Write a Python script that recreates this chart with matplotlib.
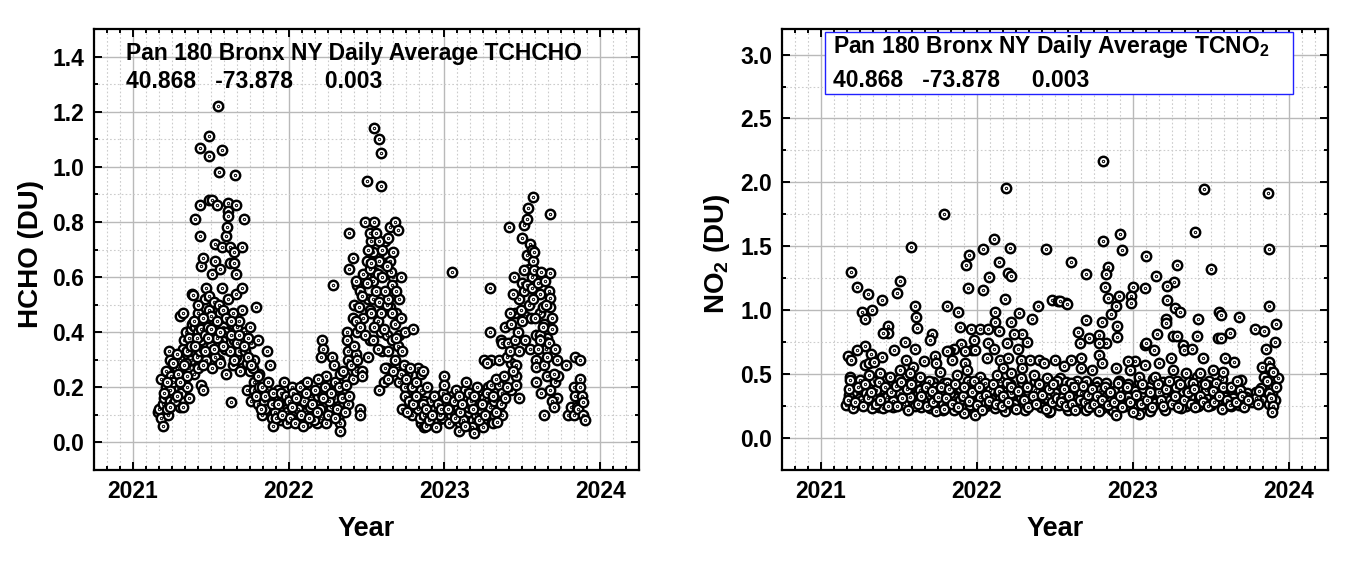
import numpy as np
import matplotlib
matplotlib.use("Agg")
import matplotlib.pyplot as plt
from matplotlib.path import Path
from matplotlib.patches import Rectangle
from matplotlib.ticker import MultipleLocator, FormatStrFormatter

plt.rcParams['font.family'] = ['Liberation Sans', 'DejaVu Sans']
plt.rcParams['font.weight'] = 'bold'
plt.rcParams['mathtext.fontset'] = 'custom'
plt.rcParams['mathtext.rm'] = 'Liberation Sans:bold'
plt.rcParams['mathtext.bf'] = 'Liberation Sans:bold'

#HCHO daily averages (decimal year, DU)
hcho_21_t = [2021.16, 2021.17, 2021.18, 2021.18, 2021.19, 2021.19, 2021.20, 2021.21, 2021.21, 2021.225,
             2021.23, 2021.235, 2021.235, 2021.245, 2021.255, 2021.27, 2021.28, 2021.29, 2021.30, 2021.30,
             2021.30, 2021.31, 2021.32, 2021.32, 2021.32, 2021.33, 2021.34, 2021.36, 2021.36, 2021.37,
             2021.37, 2021.38, 2021.38, 2021.38, 2021.385, 2021.39, 2021.39, 2021.40, 2021.40, 2021.42,
             2021.42, 2021.43, 2021.43, 2021.43, 2021.43, 2021.44, 2021.44, 2021.44, 2021.45, 2021.45,
             2021.46, 2021.47, 2021.47, 2021.47, 2021.47, 2021.48, 2021.49, 2021.49, 2021.49, 2021.49,
             2021.49, 2021.51, 2021.51, 2021.51, 2021.52, 2021.52, 2021.53, 2021.53, 2021.54, 2021.545,
             2021.55, 2021.55, 2021.55, 2021.56, 2021.56, 2021.57, 2021.57, 2021.57, 2021.575, 2021.58,
             2021.59, 2021.60, 2021.60, 2021.605, 2021.61, 2021.61, 2021.61, 2021.61, 2021.61, 2021.62,
             2021.62, 2021.63, 2021.64, 2021.65, 2021.65, 2021.65, 2021.655, 2021.66, 2021.66, 2021.66,
             2021.66, 2021.67, 2021.68, 2021.70, 2021.70, 2021.70, 2021.70, 2021.71, 2021.72, 2021.73,
             2021.75, 2021.75, 2021.76, 2021.76, 2021.78, 2021.78, 2021.78, 2021.79, 2021.80, 2021.80,
             2021.81, 2021.82, 2021.83, 2021.86, 2021.86, 2021.87, 2021.88, 2021.89, 2021.90, 2021.92,
             2021.94, 2021.97, 2021.985,
             2021.22, 2021.24, 2021.26, 2021.27, 2021.28, 2021.29, 2021.31, 2021.33, 2021.34, 2021.35,
             2021.35, 2021.36, 2021.39, 2021.41, 2021.41, 2021.42, 2021.43, 2021.44, 2021.45, 2021.46,
             2021.48, 2021.50, 2021.50, 2021.52, 2021.53, 2021.54, 2021.56, 2021.58, 2021.59, 2021.62,
             2021.63, 2021.64, 2021.67, 2021.68, 2021.69, 2021.72, 2021.73, 2021.74, 2021.77, 2021.79,
             2021.81, 2021.84, 2021.85, 2021.88, 2021.91, 2021.93, 2021.95, 2021.96, 2021.99]
hcho_21_v = [0.11, 0.12, 0.09, 0.23, 0.06, 0.14, 0.16, 0.26, 0.20, 0.10,
             0.33, 0.30, 0.15, 0.24, 0.18, 0.21, 0.27, 0.20, 0.30, 0.46,
             0.13, 0.24, 0.47, 0.34, 0.13, 0.37, 0.40, 0.27, 0.16, 0.41,
             0.30, 0.54, 0.43, 0.36, 0.535, 0.33, 0.25, 0.81, 0.42, 0.47,
             0.40, 1.07, 0.86, 0.75, 0.43, 0.37, 0.64, 0.21, 0.67, 0.19,
             0.52, 0.56, 0.44, 0.40, 0.30, 0.33, 1.11, 1.04, 0.88, 0.53,
             0.48, 0.88, 0.61, 0.27, 0.51, 0.44, 0.72, 0.66, 0.86, 1.22,
             0.98, 0.50, 0.30, 0.63, 0.47, 1.06, 0.71, 0.56, 0.37, 0.42,
             0.34, 0.75, 0.25, 0.78, 0.87, 0.84, 0.82, 0.52, 0.40, 0.71,
             0.65, 0.145, 0.47, 0.69, 0.65, 0.37, 0.97, 0.86, 0.61, 0.54,
             0.31, 0.42, 0.33, 0.71, 0.56, 0.48, 0.27, 0.81, 0.40, 0.19,
             0.42, 0.26, 0.36, 0.15, 0.30, 0.22, 0.19, 0.49, 0.37, 0.14,
             0.25, 0.17, 0.10, 0.33, 0.19, 0.13, 0.28, 0.09, 0.06, 0.16,
             0.12, 0.22, 0.14,
             0.12, 0.19, 0.22, 0.15, 0.32, 0.25, 0.18, 0.22, 0.29, 0.33,
             0.20, 0.38, 0.44, 0.31, 0.38, 0.27, 0.33, 0.41, 0.28, 0.39,
             0.42, 0.35, 0.46, 0.40, 0.31, 0.38, 0.29, 0.48, 0.40, 0.33,
             0.39, 0.28, 0.36, 0.44, 0.26, 0.33, 0.29, 0.38, 0.27, 0.17,
             0.20, 0.15, 0.12, 0.17, 0.11, 0.19, 0.08, 0.15, 0.11]

hcho_22_t = [2022.01, 2022.03, 2022.04, 2022.06, 2022.07, 2022.09, 2022.10, 2022.12, 2022.135, 2022.16,
             2022.17, 2022.20, 2022.215, 2022.22, 2022.21, 2022.23, 2022.24, 2022.26, 2022.28, 2022.29,
             2022.295, 2022.285, 2022.31, 2022.33, 2022.33, 2022.33, 2022.34, 2022.35, 2022.375, 2022.375,
             2022.38, 2022.38, 2022.39, 2022.39, 2022.39, 2022.41, 2022.41, 2022.41, 2022.43, 2022.43,
             2022.435, 2022.435, 2022.44, 2022.45, 2022.455, 2022.455, 2022.46, 2022.47, 2022.47, 2022.48,
             2022.49, 2022.50, 2022.51, 2022.52, 2022.52, 2022.52, 2022.52, 2022.54, 2022.54, 2022.54,
             2022.54, 2022.55, 2022.55, 2022.57, 2022.57, 2022.58, 2022.58, 2022.58, 2022.58, 2022.58,
             2022.59, 2022.59, 2022.60, 2022.61, 2022.63, 2022.63, 2022.64, 2022.64, 2022.64, 2022.64,
             2022.65, 2022.65, 2022.655, 2022.66, 2022.66, 2022.68, 2022.68, 2022.68, 2022.70, 2022.70,
             2022.71, 2022.71, 2022.72, 2022.72, 2022.72, 2022.73, 2022.73, 2022.74, 2022.745, 2022.745,
             2022.745, 2022.76, 2022.77, 2022.79, 2022.80, 2022.81, 2022.82, 2022.83, 2022.83, 2022.84,
             2022.85, 2022.85, 2022.86, 2022.87, 2022.87, 2022.88, 2022.915, 2022.94, 2022.945, 2022.97,
             2022.99,
             2022.02, 2022.05, 2022.08, 2022.11, 2022.13, 2022.15, 2022.18, 2022.19, 2022.22, 2022.25,
             2022.27, 2022.30, 2022.32, 2022.36, 2022.37, 2022.40, 2022.42, 2022.44, 2022.46, 2022.47,
             2022.49, 2022.50, 2022.51, 2022.53, 2022.53, 2022.55, 2022.56, 2022.56, 2022.57, 2022.59,
             2022.60, 2022.60, 2022.61, 2022.62, 2022.62, 2022.63, 2022.66, 2022.67, 2022.67, 2022.69,
             2022.69, 2022.75, 2022.78, 2022.80, 2022.82, 2022.86, 2022.88, 2022.89, 2022.90, 2022.92,
             2022.93, 2022.96, 2022.98]
hcho_22_v = [0.09, 0.18, 0.07, 0.12, 0.20, 0.06, 0.15, 0.22, 0.13, 0.08,
             0.19, 0.12, 0.37, 0.34, 0.31, 0.20, 0.07, 0.15, 0.31, 0.28,
             0.22, 0.57, 0.12, 0.07, 0.04, 0.25, 0.16, 0.26, 0.40, 0.37,
             0.33, 0.30, 0.17, 0.76, 0.63, 0.23, 0.45, 0.67, 0.44, 0.585,
             0.32, 0.26, 0.40, 0.49, 0.12, 0.55, 0.10, 0.26, 0.24, 0.61,
             0.80, 0.95, 0.31, 0.37, 0.76, 0.63, 0.48, 0.69, 0.585, 0.52,
             0.37, 1.14, 0.80, 0.61, 0.44, 1.10, 0.73, 0.66, 0.51, 0.19,
             1.05, 0.93, 0.33, 0.22, 0.50, 0.27, 0.74, 0.52, 0.33, 0.23,
             0.78, 0.66, 0.62, 0.57, 0.37, 0.80, 0.43, 0.30, 0.77, 0.35,
             0.52, 0.22, 0.60, 0.45, 0.25, 0.33, 0.12, 0.28, 0.40, 0.20,
             0.17, 0.11, 0.15, 0.20, 0.41, 0.13, 0.22, 0.27, 0.12, 0.09,
             0.25, 0.19, 0.26, 0.10, 0.055, 0.06, 0.15, 0.12, 0.055, 0.10,
             0.18,
             0.13, 0.16, 0.10, 0.18, 0.09, 0.14, 0.11, 0.23, 0.16, 0.10,
             0.18, 0.09, 0.20, 0.11, 0.21, 0.28, 0.35, 0.30, 0.42, 0.53,
             0.39, 0.58, 0.70, 0.47, 0.65, 0.42, 0.55, 0.76, 0.34, 0.47,
             0.60, 0.70, 0.41, 0.55, 0.27, 0.64, 0.47, 0.26, 0.69, 0.38,
             0.55, 0.23, 0.27, 0.14, 0.17, 0.14, 0.12, 0.20, 0.08, 0.10,
             0.17, 0.14, 0.12]

hcho_23_t = [2023.00, 2023.00, 2023.01, 2023.04, 2023.05, 2023.075, 2023.085, 2023.095, 2023.12, 2023.13,
             2023.14, 2023.15, 2023.17, 2023.175, 2023.19, 2023.20, 2023.21, 2023.23, 2023.245, 2023.255,
             2023.255, 2023.28, 2023.29, 2023.29, 2023.29, 2023.30, 2023.30, 2023.31, 2023.32, 2023.34,
             2023.35, 2023.35, 2023.36, 2023.37, 2023.37, 2023.39, 2023.40, 2023.41, 2023.415, 2023.42,
             2023.425, 2023.43, 2023.44, 2023.445, 2023.45, 2023.46, 2023.46, 2023.46, 2023.48, 2023.49,
             2023.495, 2023.50, 2023.51, 2023.51, 2023.51, 2023.52, 2023.53, 2023.53, 2023.53, 2023.535,
             2023.55, 2023.55, 2023.555, 2023.56, 2023.56, 2023.57, 2023.57, 2023.575, 2023.575, 2023.59,
             2023.59, 2023.59, 2023.59, 2023.60, 2023.61, 2023.61, 2023.615, 2023.62, 2023.635, 2023.64,
             2023.64, 2023.64, 2023.645, 2023.65, 2023.66, 2023.66, 2023.68, 2023.68, 2023.68, 2023.68,
             2023.68, 2023.69, 2023.69, 2023.69, 2023.70, 2023.72, 2023.73, 2023.78, 2023.79, 2023.81,
             2023.83, 2023.83, 2023.84, 2023.84, 2023.85, 2023.86, 2023.87, 2023.87, 2023.87, 2023.88,
             2023.89, 2023.89, 2023.90,
             2023.02, 2023.03, 2023.06, 2023.07, 2023.09, 2023.10, 2023.11, 2023.13, 2023.16, 2023.18,
             2023.19, 2023.22, 2023.24, 2023.26, 2023.27, 2023.27, 2023.31, 2023.33, 2023.33, 2023.36,
             2023.38, 2023.39, 2023.40, 2023.42, 2023.44, 2023.47, 2023.48, 2023.50, 2023.54, 2023.57,
             2023.58, 2023.60, 2023.62, 2023.63, 2023.65, 2023.67, 2023.70, 2023.71]
hcho_23_v = [0.24, 0.21, 0.16, 0.10, 0.62, 0.19, 0.13, 0.04, 0.08, 0.19,
             0.22, 0.13, 0.15, 0.055, 0.035, 0.10, 0.20, 0.12, 0.055, 0.16,
             0.30, 0.20, 0.13, 0.40, 0.56, 0.21, 0.30, 0.07, 0.15, 0.075,
             0.21, 0.30, 0.37, 0.18, 0.36, 0.42, 0.31, 0.36, 0.78, 0.47,
             0.43, 0.19, 0.54, 0.60, 0.37, 0.28, 0.24, 0.21, 0.16, 0.48,
             0.74, 0.58, 0.55, 0.79, 0.625, 0.37, 0.81, 0.68, 0.57, 0.85,
             0.72, 0.34, 0.45, 0.70, 0.56, 0.89, 0.66, 0.69, 0.625, 0.39,
             0.30, 0.275, 0.22, 0.58, 0.54, 0.39, 0.37, 0.18, 0.49, 0.43,
             0.28, 0.10, 0.585, 0.34, 0.31, 0.24, 0.615, 0.525, 0.49, 0.19,
             0.83, 0.45, 0.41, 0.15, 0.13, 0.30, 0.24, 0.28, 0.10, 0.13,
             0.20, 0.10, 0.31, 0.17, 0.13, 0.12, 0.30, 0.23, 0.20, 0.17,
             0.145, 0.10, 0.08,
             0.12, 0.07, 0.15, 0.09, 0.17, 0.11, 0.14, 0.06, 0.18, 0.12,
             0.17, 0.08, 0.14, 0.10, 0.18, 0.29, 0.17, 0.11, 0.23, 0.14,
             0.24, 0.16, 0.20, 0.33, 0.26, 0.40, 0.33, 0.44, 0.50, 0.52,
             0.45, 0.34, 0.62, 0.42, 0.50, 0.36, 0.25, 0.34]

#more HCHO days from the crowded parts of the left panel
hcho_fill_t = [2021.82, 2021.83, 2021.85, 2021.87, 2021.89, 2021.90, 2021.92, 2021.93, 2021.95, 2021.96,
               2021.98, 2021.99, 2022.00, 2022.02, 2022.03, 2022.05, 2022.06, 2022.08, 2022.09, 2022.11,
               2022.12, 2022.14, 2022.15, 2022.17, 2022.18, 2022.19, 2022.21, 2022.23, 2022.24, 2022.26,
               2022.27, 2022.29, 2022.30, 2022.32, 2022.34, 2022.35, 2022.36, 2022.38,
               2021.20, 2021.22, 2021.24, 2021.26, 2021.28, 2021.30, 2021.33, 2021.35, 2021.37, 2021.40,
               2021.42, 2021.45, 2021.46, 2021.48, 2021.50, 2021.52, 2021.54, 2021.56, 2021.58, 2021.60,
               2021.63, 2021.65, 2021.68, 2021.71, 2021.74, 2021.76, 2021.80,
               2022.42, 2022.44, 2022.48, 2022.50, 2022.51, 2022.53, 2022.55, 2022.57, 2022.59, 2022.61,
               2022.62, 2022.63, 2022.65, 2022.67, 2022.69, 2022.70, 2022.71, 2022.73, 2022.76,
               2022.77, 2022.79, 2022.81, 2022.84, 2022.85, 2022.87, 2022.89, 2022.91, 2022.92, 2022.94,
               2022.96, 2022.97, 2022.99, 2023.01, 2023.03, 2023.05, 2023.08, 2023.10, 2023.12, 2023.14,
               2023.16, 2023.18, 2023.21, 2023.23, 2023.25, 2023.28, 2023.30, 2023.32, 2023.35, 2023.37,
               2023.43, 2023.45, 2023.48, 2023.52, 2023.54, 2023.56, 2023.58, 2023.61, 2023.62, 2023.66,
               2023.67, 2023.71, 2023.72]
hcho_fill_v = [0.12, 0.20, 0.17, 0.22, 0.14, 0.18, 0.09, 0.14, 0.18, 0.10,
               0.17, 0.07, 0.15, 0.20, 0.10, 0.08, 0.17, 0.14, 0.21, 0.11,
               0.07, 0.17, 0.10, 0.14, 0.07, 0.17, 0.09, 0.13, 0.24, 0.10,
               0.13, 0.16, 0.19, 0.10, 0.13, 0.18, 0.24, 0.14,
               0.18, 0.22, 0.13, 0.29, 0.17, 0.22, 0.28, 0.24, 0.35, 0.35,
               0.50, 0.45, 0.33, 0.38, 0.41, 0.34, 0.44, 0.40, 0.35, 0.45,
               0.44, 0.30, 0.39, 0.35, 0.31, 0.28, 0.24,
               0.50, 0.57, 0.45, 0.66, 0.52, 0.73, 0.62, 0.68, 0.40, 0.65,
               0.73, 0.39, 0.49, 0.60, 0.47, 0.27, 0.39, 0.22, 0.25,
               0.19, 0.10, 0.17, 0.13, 0.07, 0.15, 0.09, 0.13, 0.07, 0.17,
               0.08, 0.13, 0.09, 0.14, 0.11, 0.17, 0.10, 0.07, 0.13, 0.09,
               0.11, 0.08, 0.14, 0.18, 0.08, 0.11, 0.17, 0.10, 0.13, 0.10,
               0.29, 0.47, 0.52, 0.46, 0.63, 0.60, 0.55, 0.47, 0.29, 0.38,
               0.55, 0.22, 0.16]

#NO2 daily averages (decimal year, DU)
no2_21_t = [2021.195, 2021.234, 2021.30, 2021.39, 2021.265, 2021.33, 2021.28, 2021.485, 2021.506, 2021.575,
            2021.60, 2021.61, 2021.614, 2021.79, 2021.807, 2021.88, 2021.93, 2021.95, 2021.94, 2022.036,
            2022.04, 2022.08, 2022.11, 2022.14, 2022.18, 2022.187, 2022.197, 2022.215, 2022.21, 2022.118,
            2022.114, 2022.27, 2022.22, 2022.35, 2022.39, 2022.44, 2022.48, 2022.52,
            2021.427, 2021.43, 2021.40, 2021.71, 2021.70, 2021.54, 2021.60, 2021.28, 2021.23, 2021.17,
            2021.195, 2021.89, 2021.96, 2022.02, 2022.07, 2022.14, 2021.98, 2021.90, 2021.85, 2021.82,
            2021.97, 2021.99, 2022.19, 2022.26, 2022.32, 2022.29, 2022.24, 2022.07, 2022.11, 2021.32,
            2021.39, 2021.47, 2021.28, 2021.31, 2021.34, 2021.545, 2021.59, 2021.66, 2021.73, 2021.74,
            2021.76, 2021.81, 2021.84, 2021.925, 2021.925, 2022.065, 2022.15, 2022.20, 2022.28, 2022.34,
            2022.17, 2022.22, 2022.29, 2022.40, 2022.43, 2022.50,
            2021.185, 2021.185, 2021.25, 2021.31, 2021.38, 2021.44, 2021.506, 2021.57, 2021.635, 2021.69,
            2021.74, 2021.807, 2021.87, 2021.936, 2022.02, 2021.98, 2022.05, 2022.13, 2022.19, 2022.28,
            2022.365, 2022.45, 2022.515,
            2021.163, 2021.205, 2021.26, 2021.29, 2021.33, 2021.355, 2021.40, 2021.42, 2021.46, 2021.506,
            2021.53, 2021.57, 2021.60, 2021.635, 2021.657, 2021.70, 2021.73, 2021.74, 2021.785, 2021.83,
            2021.85, 2021.89, 2021.915, 2021.936, 2021.957, 2021.99, 2022.02, 2022.05, 2022.086, 2022.118,
            2022.15, 2022.18, 2022.215, 2022.236, 2022.28, 2022.31, 2022.34, 2022.375, 2022.41, 2022.45,
            2022.47, 2022.50, 2022.525,
            2021.17, 2021.18, 2021.22, 2021.24, 2021.27, 2021.28, 2021.30, 2021.32, 2021.35, 2021.37,
            2021.38, 2021.41, 2021.43, 2021.45, 2021.48, 2021.49, 2021.51, 2021.52, 2021.55, 2021.56,
            2021.58, 2021.62, 2021.64, 2021.67, 2021.68, 2021.71, 2021.72, 2021.75, 2021.77, 2021.79,
            2021.80, 2021.82, 2021.84, 2021.86, 2021.88, 2021.91, 2021.92, 2021.95, 2021.97, 2022.00,
            2022.01, 2022.03, 2022.06, 2022.08, 2022.10, 2022.12, 2022.14, 2022.16, 2022.17, 2022.20,
            2022.22, 2022.25, 2022.26, 2022.30, 2022.32, 2022.33, 2022.36, 2022.38, 2022.40, 2022.42,
            2022.44, 2022.46, 2022.48, 2022.49, 2022.51]
no2_21_v = [1.30, 1.18, 1.13, 1.08, 0.985, 1.00, 0.93, 1.134, 1.226, 1.495,
            1.035, 0.95, 0.86, 1.756, 1.035, 0.985, 1.356, 1.435, 1.176, 1.16,
            1.48, 1.26, 1.557, 1.377, 1.09, 1.957, 1.29, 1.265, 1.49, 0.985,
            0.91, 0.98, 0.91, 0.93, 1.035, 1.48, 1.08, 1.07,
            0.873, 0.82, 0.82, 0.816, 0.764, 0.753, 0.70, 0.72, 0.685, 0.645,
            0.61, 0.865, 0.85, 0.85, 0.855, 0.84, 0.764, 0.735, 0.70, 0.68,
            0.69, 0.69, 0.74, 0.70, 0.75, 0.816, 0.816, 0.74, 0.70, 0.66,
            0.633, 0.685, 0.57, 0.586, 0.594, 0.61, 0.555, 0.605, 0.64, 0.586,
            0.52, 0.68, 0.61, 0.68, 0.586, 0.625, 0.61, 0.625, 0.61, 0.61,
            0.547, 0.51, 0.547, 0.61, 0.586, 0.61,
            0.48, 0.455, 0.455, 0.495, 0.508, 0.48, 0.534, 0.508, 0.48, 0.443,
            0.403, 0.43, 0.495, 0.534, 0.477, 0.443, 0.43, 0.495, 0.43, 0.47,
            0.495, 0.47, 0.443,
            0.26, 0.234, 0.30, 0.35, 0.234, 0.377, 0.234, 0.325, 0.286, 0.35,
            0.27, 0.325, 0.25, 0.377, 0.30, 0.234, 0.34, 0.21, 0.27, 0.35,
            0.22, 0.30, 0.195, 0.364, 0.26, 0.18, 0.325, 0.27, 0.377, 0.234,
            0.31, 0.21, 0.35, 0.27, 0.325, 0.22, 0.286, 0.377, 0.246, 0.31,
            0.21, 0.35, 0.26,
            0.30, 0.38, 0.28, 0.40, 0.25, 0.42, 0.31, 0.36, 0.27, 0.44,
            0.30, 0.40, 0.25, 0.36, 0.41, 0.25, 0.44, 0.31, 0.38, 0.22,
            0.42, 0.27, 0.33, 0.40, 0.25, 0.37, 0.28, 0.32, 0.40, 0.23,
            0.31, 0.38, 0.27, 0.42, 0.24, 0.33, 0.40, 0.29, 0.36, 0.26,
            0.40, 0.22, 0.34, 0.29, 0.42, 0.27, 0.37, 0.25, 0.33, 0.28,
            0.40, 0.23, 0.37, 0.30, 0.40, 0.24, 0.33, 0.27, 0.42, 0.34,
            0.23, 0.38, 0.28, 0.42, 0.31]

no2_23_t = [2022.806, 2023.457, 2023.865, 2023.395, 2022.92, 2022.81, 2022.93, 2023.87, 2022.60, 2023.085,
            2023.28, 2023.50, 2022.70, 2022.84, 2022.83, 2023.15, 2023.26, 2023.22, 2022.82, 2023.00,
            2023.08, 2022.99, 2022.99, 2022.84, 2022.91, 2022.89, 2022.86, 2023.22, 2023.27, 2023.30,
            2022.57, 2022.53, 2022.58,
            2022.70, 2022.80, 2022.90, 2022.90, 2022.83, 2022.78, 2022.65, 2022.72, 2022.78, 2022.66,
            2023.21, 2023.21, 2023.156, 2023.42, 2023.41, 2023.256, 2023.28, 2023.55, 2023.566, 2023.68,
            2023.62, 2023.545, 2023.566, 2023.78, 2023.84, 2023.915, 2023.87, 2023.91, 2023.855,
            2023.075, 2023.085, 2023.135, 2023.32, 2023.325, 2023.38, 2023.45, 2023.65, 2023.59, 2023.875,
            2023.83, 2023.246, 2023.17, 2023.08, 2023.01, 2022.97, 2022.78, 2022.80, 2022.665, 2022.60,
            2022.89, 2022.74, 2022.67, 2022.56, 2022.98, 2023.036, 2023.14, 2023.256, 2023.34, 2023.43,
            2023.51, 2023.575, 2023.69, 2023.84, 2023.93, 2023.90, 2023.875, 2023.885, 2023.897, 2023.89,
            2023.82, 2023.79, 2023.726, 2023.684, 2023.705, 2023.64, 2023.59, 2023.534, 2023.534, 2023.49,
            2023.47, 2023.417, 2023.385, 2023.363, 2023.31, 2023.278, 2023.235, 2023.203, 2023.17, 2023.14,
            2023.107, 2023.064, 2023.04, 2023.00, 2022.97, 2022.947, 2022.904, 2022.87, 2022.86, 2022.83,
            2022.80, 2022.765, 2022.73, 2022.70, 2022.67, 2022.64, 2022.605, 2022.584, 2022.55, 2022.79,
            2022.54, 2022.56, 2022.57, 2022.59, 2022.61, 2022.62, 2022.63, 2022.66, 2022.68, 2022.69,
            2022.71, 2022.72, 2022.74, 2022.75, 2022.77, 2022.78, 2022.80, 2022.82, 2022.84, 2022.85,
            2022.88, 2022.89, 2022.92, 2022.93, 2022.96, 2022.98, 2023.02, 2023.05, 2023.06, 2023.09,
            2023.11, 2023.12, 2023.16, 2023.18, 2023.19, 2023.21, 2023.23, 2023.25, 2023.27, 2023.29,
            2023.30, 2023.33, 2023.35, 2023.37, 2023.39, 2023.40, 2023.43, 2023.45, 2023.46, 2023.48,
            2023.51, 2023.52, 2023.55, 2023.57, 2023.58, 2023.60, 2023.62, 2023.63, 2023.66, 2023.67,
            2023.70, 2023.71, 2023.74, 2023.80, 2023.81, 2023.86, 2023.88, 2023.90, 2023.92]
no2_23_v = [2.166, 1.946, 1.918, 1.615, 1.597, 1.54, 1.47, 1.48, 1.375, 1.427,
            1.356, 1.325, 1.286, 1.34, 1.286, 1.265, 1.218, 1.19, 1.18, 1.18,
            1.175, 1.114, 1.06, 1.095, 1.108, 1.035, 0.97, 1.08, 1.02, 0.99,
            1.056, 1.07, 1.05,
            0.92, 0.91, 0.873, 0.79, 0.74, 0.81, 0.83, 0.78, 0.74, 0.74,
            0.93, 0.90, 0.816, 0.933, 0.795, 0.795, 0.795, 0.99, 0.965, 0.944,
            0.82, 0.78, 0.78, 0.85, 0.834, 0.894, 1.035, 0.755, 0.70,
            0.73, 0.743, 0.69, 0.73, 0.69, 0.70, 0.625, 0.594, 0.625, 0.594,
            0.555, 0.625, 0.586, 0.573, 0.604, 0.604, 0.65, 0.586, 0.625, 0.61,
            0.547, 0.534, 0.547, 0.56, 0.534, 0.48, 0.48, 0.534, 0.508, 0.508,
            0.534, 0.52, 0.455, 0.48, 0.47, 0.403, 0.35, 0.31, 0.247, 0.20,
            0.39, 0.31, 0.325, 0.377, 0.26, 0.31, 0.247, 0.43, 0.34, 0.27,
            0.377, 0.247, 0.43, 0.325, 0.234, 0.403, 0.30, 0.22, 0.364, 0.273,
            0.21, 0.39, 0.19, 0.20, 0.325, 0.247, 0.43, 0.21, 0.30, 0.35,
            0.234, 0.403, 0.286, 0.22, 0.35, 0.26, 0.43, 0.22, 0.325, 0.377,
            0.28, 0.38, 0.25, 0.33, 0.27, 0.40, 0.22, 0.30, 0.41, 0.28,
            0.34, 0.24, 0.38, 0.27, 0.33, 0.21, 0.30, 0.40, 0.26, 0.36,
            0.28, 0.18, 0.33, 0.24, 0.40, 0.28, 0.34, 0.27, 0.42, 0.30,
            0.36, 0.24, 0.42, 0.30, 0.25, 0.38, 0.45, 0.27, 0.33, 0.24,
            0.42, 0.30, 0.36, 0.27, 0.38, 0.24, 0.33, 0.28, 0.42, 0.25,
            0.37, 0.28, 0.33, 0.23, 0.40, 0.30, 0.26, 0.40, 0.28, 0.45,
            0.33, 0.24, 0.30, 0.27, 0.37, 0.45, 0.55, 0.52, 0.40]

#more NO2 days from the crowded low band of the right panel
no2_fill_t = [2021.18, 2021.20, 2021.21, 2021.23, 2021.25, 2021.26, 2021.29, 2021.31, 2021.33, 2021.34,
              2021.36, 2021.37, 2021.39, 2021.41, 2021.42, 2021.44, 2021.46, 2021.47, 2021.49, 2021.50,
              2021.53, 2021.54, 2021.56, 2021.58, 2021.59, 2021.61, 2021.62, 2021.64, 2021.66, 2021.67,
              2021.69, 2021.71, 2021.72, 2021.74, 2021.76, 2021.78, 2021.79, 2021.81, 2021.83, 2021.84,
              2021.86, 2021.87, 2021.89, 2021.91, 2021.93, 2021.94, 2021.96, 2021.98, 2021.99, 2022.01,
              2022.03, 2022.04, 2022.06, 2022.08, 2022.09, 2022.11, 2022.13, 2022.15, 2022.16, 2022.18,
              2022.20, 2022.21, 2022.23, 2022.25, 2022.27, 2022.29, 2022.30, 2022.32, 2022.34, 2022.35,
              2022.37, 2022.39, 2022.41, 2022.43, 2022.45, 2022.46, 2022.48, 2022.50, 2022.52, 2022.53,
              2022.55, 2022.57, 2022.58, 2022.60, 2022.62, 2022.64, 2022.65, 2022.67, 2022.69, 2022.70,
              2022.72, 2022.74, 2022.76, 2022.77, 2022.79, 2022.81, 2022.83, 2022.84, 2022.86, 2022.88,
              2022.90, 2022.91, 2022.94, 2022.95, 2022.97, 2022.99, 2023.01, 2023.03, 2023.04, 2023.06,
              2023.08, 2023.10, 2023.12, 2023.13, 2023.15, 2023.17, 2023.19, 2023.20, 2023.22, 2023.24,
              2023.26, 2023.28, 2023.30, 2023.32, 2023.34, 2023.36, 2023.38, 2023.40, 2023.41, 2023.43,
              2023.45, 2023.47, 2023.49, 2023.50, 2023.52, 2023.54, 2023.56, 2023.57, 2023.59, 2023.61,
              2023.63, 2023.64, 2023.66, 2023.68, 2023.69, 2023.71, 2023.73, 2023.76, 2023.79, 2023.83,
              2023.85, 2023.87, 2023.89, 2023.91]
no2_fill_v = [0.34, 0.41, 0.27, 0.36, 0.31, 0.44, 0.27, 0.39, 0.30, 0.45,
              0.33, 0.24, 0.38, 0.28, 0.47, 0.33, 0.24, 0.39, 0.30, 0.46,
              0.36, 0.26, 0.42, 0.30, 0.37, 0.45, 0.35, 0.24, 0.38, 0.29,
              0.34, 0.25, 0.44, 0.31, 0.37, 0.22, 0.43, 0.29, 0.25, 0.36,
              0.31, 0.24, 0.39, 0.27, 0.35, 0.45, 0.31, 0.23, 0.38, 0.30,
              0.44, 0.35, 0.25, 0.40, 0.32, 0.27, 0.36, 0.45, 0.29, 0.38,
              0.24, 0.42, 0.31, 0.36, 0.28, 0.44, 0.24, 0.34, 0.40, 0.29,
              0.45, 0.31, 0.37, 0.27, 0.40, 0.20, 0.34, 0.27, 0.38, 0.47,
              0.30, 0.44, 0.34, 0.26, 0.36, 0.45, 0.31, 0.24, 0.37, 0.45,
              0.30, 0.25, 0.36, 0.44, 0.31, 0.26, 0.43, 0.34, 0.23, 0.37,
              0.30, 0.45, 0.34, 0.27, 0.42, 0.30, 0.37, 0.25, 0.44, 0.32,
              0.27, 0.40, 0.33, 0.46, 0.29, 0.36, 0.44, 0.32, 0.26, 0.39,
              0.33, 0.45, 0.28, 0.37, 0.25, 0.44, 0.31, 0.36, 0.48, 0.27,
              0.38, 0.31, 0.45, 0.26, 0.41, 0.29, 0.37, 0.46, 0.32, 0.39,
              0.25, 0.34, 0.40, 0.26, 0.37, 0.29, 0.35, 0.28, 0.36, 0.30,
              0.41, 0.27, 0.35, 0.30]

year_ticks = [2021, 2022, 2023, 2024]
site_line = "40.868   -73.878     0.003"


def ring_marker():
    #open circle with a dot in the middle, like the Origin plot
    return Path.make_compound_path(Path.circle((0, 0), 1.0), Path.circle((0, 0), 0.1))


def setup_axes(ax, ymin, ymax, ymajor, yminor):
    ax.set_xlim(2020.75, 2024.25)
    ax.set_ylim(ymin, ymax)
    ax.set_xticks(year_ticks)
    ax.xaxis.set_minor_locator(MultipleLocator(1 / 12))
    ax.yaxis.set_major_locator(MultipleLocator(ymajor))
    ax.yaxis.set_minor_locator(MultipleLocator(yminor))
    ax.xaxis.set_major_formatter(FormatStrFormatter('%d'))
    ax.yaxis.set_major_formatter(FormatStrFormatter('%.1f'))
    ax.set_axisbelow(True)
    ax.grid(which='major', color='#b9b9b9', linewidth=1.0, linestyle='-')
    ax.grid(which='minor', color='#cccccc', linewidth=0.8, linestyle=(0, (1.5, 2)))
    ax.tick_params(which='both', direction='in', top=True, right=True, width=1.4, colors='black')
    ax.tick_params(which='major', length=6, labelsize=16.5, pad=7)
    ax.tick_params(which='minor', length=3)
    for lab in ax.get_xticklabels() + ax.get_yticklabels():
        lab.set_fontweight('bold')
    for s in ax.spines.values():
        s.set_linewidth(1.6)
    ax.set_xlabel("Year", fontsize=19.5, fontweight='bold')
    ax.xaxis.set_label_coords(0.5, -0.104)


def draw_points(ax, t, v):
    ax.scatter(t, v, marker=ring_marker(), s=46, facecolors='white',
               edgecolors='black', linewidths=1.75, zorder=3)


fig = plt.figure(figsize=(13.52, 5.61), dpi=100)
ax1 = fig.add_axes([0.0695, 0.1622, 0.4033, 0.7861])
ax2 = fig.add_axes([0.5784, 0.1622, 0.4038, 0.7861])

setup_axes(ax1, -0.1, 1.5, 0.2, 0.1)
draw_points(ax1, hcho_21_t + hcho_fill_t + hcho_22_t + hcho_23_t,
            hcho_21_v + hcho_fill_v + hcho_22_v + hcho_23_v)
ax1.set_ylabel("HCHO (DU)", fontsize=20, fontweight='bold')
ax1.yaxis.set_label_coords(-0.092, 0.49)
ax1.text(0.0587, 0.9297, "Pan 180 Bronx NY Daily Average TCHCHO", transform=ax1.transAxes,
         fontsize=16.5, fontweight='bold', va='baseline', ha='left', zorder=5)
ax1.text(0.0587, 0.8655, site_line, transform=ax1.transAxes,
         fontsize=16.5, fontweight='bold', va='baseline', ha='left', zorder=5)

setup_axes(ax2, -0.25, 3.2, 0.5, 0.25)
draw_points(ax2, no2_fill_t + no2_21_t + no2_23_t, no2_fill_v + no2_21_v + no2_23_v)
ax2.set_ylabel(r"NO$_2$ (DU)", fontsize=20, fontweight='bold')
ax2.yaxis.set_label_coords(-0.092, 0.49)
box = Rectangle((0.0788, 0.852), 0.857, 0.142, transform=ax2.transAxes,
                facecolor='white', edgecolor='#2020ff', linewidth=1.0, zorder=4)
ax2.add_patch(box)
ax2.text(0.0927, 0.9449, r"Pan 180 Bronx NY Daily Average TCNO$_2$", transform=ax2.transAxes,
         fontsize=16.5, fontweight='bold', va='baseline', ha='left', zorder=5)
ax2.text(0.0927, 0.8678, site_line, transform=ax2.transAxes,
         fontsize=16.5, fontweight='bold', va='baseline', ha='left', zorder=5)

fig.savefig("out.png", dpi=100)
